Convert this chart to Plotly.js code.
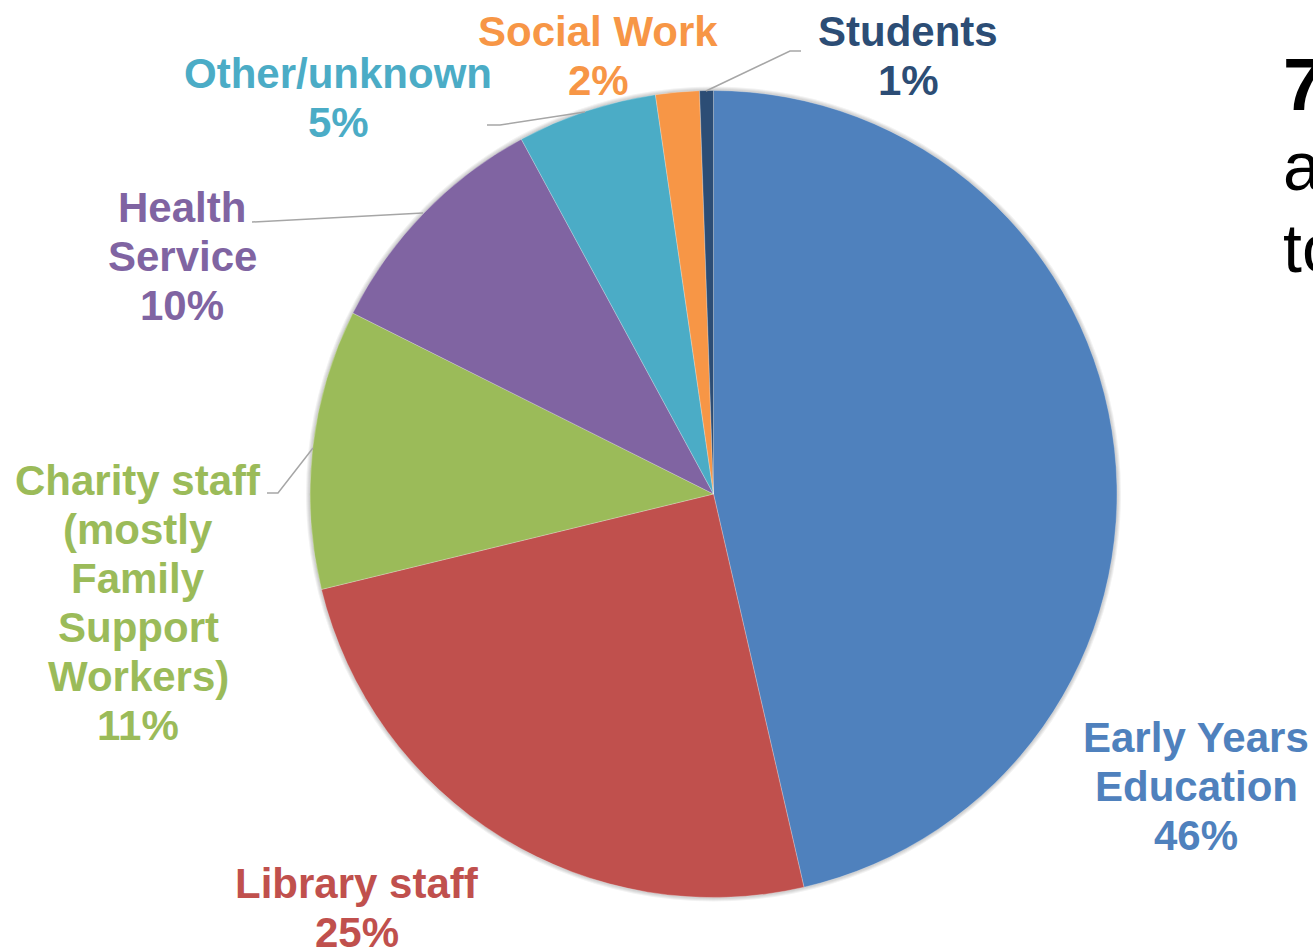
<!DOCTYPE html>
<html>
<head>
<meta charset="utf-8">
<script src="https://cdn.plot.ly/plotly-3.0.1.min.js"></script>
<style>html,body{margin:0;padding:0;background:#fff;overflow:hidden}#chart{width:1313px;height:950px}</style>
</head>
<body>
<div id="chart"></div>
<script>
// ---- data ----
const categories = ["Early Years Education", "Library staff", "Charity staff (mostly Family Support Workers)", "Health Service", "Other/unknown", "Social Work", "Students"];
const shares = [46.4, 24.8, 11.2, 9.7, 5.6, 1.75, 0.55];
const pctLabels = ["46%", "25%", "11%", "10%", "5%", "2%", "1%"];
const labelLines = [
  ["Early Years", "Education"],
  ["Library staff"],
  ["Charity staff", "(mostly", "Family", "Support", "Workers)"],
  ["Health", "Service"],
  ["Other/unknown"],
  ["Social Work"],
  ["Students"]
];
const sideText = ["7", "a", "to"];

// ---- styles / layout ----
const W = 1313, H = 950;
const colors = ["#4F81BD", "#C0504D", "#9BBB59", "#8064A2", "#4BACC6", "#F79646", "#2C4D75"];
const cx = 713.5, cy = 494, R = 403.5;
// label block anchors (pixel positions: center x, first line y)
const labelPos = [
  [1196, 737], [357, 883], [138, 480], [182, 207], [338, 74], [598, 31], [908, 31]
];
const lineStep = 49;
const fontSize = 42;
const FONT = "Liberation Sans, Arial, sans-serif";

const px = x => x / W;
const py = y => 1 - y / H;

const annotations = [];
labelLines.forEach((lines, i) => {
  const all = lines.concat([pctLabels[i]]);
  all.forEach((t, j) => {
    annotations.push({
      xref: "paper", yref: "paper",
      x: px(labelPos[i][0]), y: py(labelPos[i][1] + j * lineStep),
      xanchor: "center", yanchor: "middle",
      text: "<b>" + t + "</b>", showarrow: false,
      font: {family: FONT, size: fontSize, color: colors[i]}
    });
  });
});
// cut-off slide text at right
const sideY = [84, 166, 248];
sideText.forEach((t, i) => {
  annotations.push({
    xref: "paper", yref: "paper", x: px(1281), y: py(sideY[i]),
    xanchor: "left", yanchor: "middle", showarrow: false,
    text: i === 0 ? "<b>" + t + "</b>" : t,
    font: {family: FONT, size: i === 0 ? 74 : 68, color: "#000000"}
  });
});

// leader lines
const leader = (pts) => ({
  type: "path", xref: "paper", yref: "paper",
  path: "M " + pts.map(p => px(p[0]) + "," + py(p[1])).join(" L "),
  line: {color: "#A6A6A6", width: 1.5}
});
const shapes = [
  leader([[801, 51], [790, 51], [706, 91]]),
  leader([[487, 125], [500, 125], [585, 112]]),
  leader([[252, 222], [423, 213]]),
  leader([[267, 493], [278, 493], [313, 448]])
];
// soft shadow rings behind the pie
[4, 3, 2, 1].forEach(d => {
  shapes.push({
    type: "circle", xref: "paper", yref: "paper", layer: "below",
    x0: px(cx - R - d), x1: px(cx + R + d), y0: py(cy + R + d), y1: py(cy - R - d),
    line: {width: 0}, fillcolor: "rgba(0,0,0,0.05)"
  });
});

const trace = {
  type: "pie",
  labels: categories,
  values: shares,
  sort: false,
  direction: "clockwise",
  rotation: 0,
  textinfo: "none",
  hoverinfo: "label+percent",
  marker: {colors: colors, line: {color: "rgba(255,255,255,0.5)", width: 0.5}},
  domain: {x: [px(cx - R), px(cx + R)], y: [py(cy + R), py(cy - R)]},
  showlegend: false
};

const layout = {
  width: W, height: H,
  margin: {l: 0, r: 0, t: 0, b: 0},
  paper_bgcolor: "#ffffff",
  plot_bgcolor: "#ffffff",
  showlegend: false,
  annotations: annotations,
  shapes: shapes
};

Plotly.newPlot("chart", [trace], layout, {displayModeBar: false, staticPlot: true});
</script>
</body>
</html>
